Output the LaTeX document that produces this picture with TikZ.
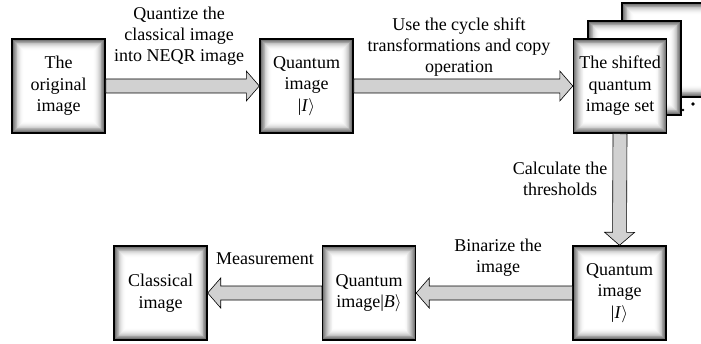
\documentclass[tikz,border=0pt]{standalone}
\usepackage{fontspec}
\setmainfont{Liberation Serif}
\usetikzlibrary{calc}

\definecolor{arrowfill}{gray}{0.82}

\tikzset{
  imgbox/.style={draw=black, line width=1.4pt, minimum width=93pt, minimum height=94pt,
    inner sep=0pt, align=center, font=\fontsize{18}{21.5}\selectfont,
    path picture={
      \foreach \k [evaluate=\k as \g using {62*(1-\k/13)^2}] in {0,...,13}{
        \fill[black!\g] ($(path picture bounding box.south west)+(\k*0.9pt,\k*0.9pt)$)
          rectangle ($(path picture bounding box.north east)-(\k*0.9pt,\k*0.9pt)$);
      }
    }},
  lbl/.style={align=center, inner sep=0pt, font=\fontsize{18}{21}\selectfont},
  fatarrow/.style={draw=black, fill=arrowfill, line width=0.6pt, line join=miter}
}

% block arrow from one anchor to another: shaft 14pt wide, head 30pt wide and 13pt long
\newcommand{\fatconn}[2]{%
  \coordinate (fa-h) at ($(#2)!13pt!(#1)$);
  \draw[fatarrow] ($(#1)!7pt!-90:(#2)$) -- ($(fa-h)!7pt!90:(#1)$)
    -- ($(fa-h)!15pt!90:(#1)$) -- (#2) -- ($(fa-h)!15pt!-90:(#1)$)
    -- ($(fa-h)!7pt!-90:(#1)$) -- ($(#1)!7pt!90:(#2)$) -- cycle;
}

\begin{document}
\begin{tikzpicture}[x=1pt, y=1pt]
  \useasboundingbox (0,0) rectangle (701,343);
  \clip (0,0) rectangle (701,343);

  % top row
  \node[imgbox] (b1) at (58.5,257) {The\\original\\image};
  \node[imgbox] (b2) at (306.5,257) {Quantum\\image\\|\textit{I}$\rangle$};

  % stack of shifted images
  \node[imgbox] (s3) at (668.5,293) {};
  \node[imgbox] (s2) at (634.5,275) {};
  \node[imgbox] (b3) at (620,257) {The shifted\\quantum\\image set};
  \fill (683,233) circle (1.3);
  \fill (693,239) circle (1.8);

  % bottom row
  \node[imgbox] (b5) at (619.5,50) {Quantum\\image\\|\textit{I}$\rangle$};
  \node[imgbox] (b4) at (369,50) {Quantum\\image|\textit{B}$\rangle$};
  \node[imgbox] (b6) at (160.5,50) {Classical\\image};

  % connectors
  \fatconn{b1.east}{b2.west}
  \fatconn{b2.east}{b3.west}
  \fatconn{b3.south}{b5.north}
  \fatconn{b5.west}{b4.east}
  \fatconn{b4.west}{b6.east}

  % step labels
  \node[lbl] (t1) at (179,307) {Quantize the\\classical image\\into NEQR image};
  \node[lbl] (t2) at (459,296) {Use the cycle shift\\transformations and copy\\operation};
  \node[lbl] (t3) at (560,164.5) {Calculate the\\thresholds};
  \node[lbl] (t4) at (498,85) {Binarize the\\image};
  \node[lbl] (t5) at (265,84) {Measurement};
\end{tikzpicture}
\end{document}
